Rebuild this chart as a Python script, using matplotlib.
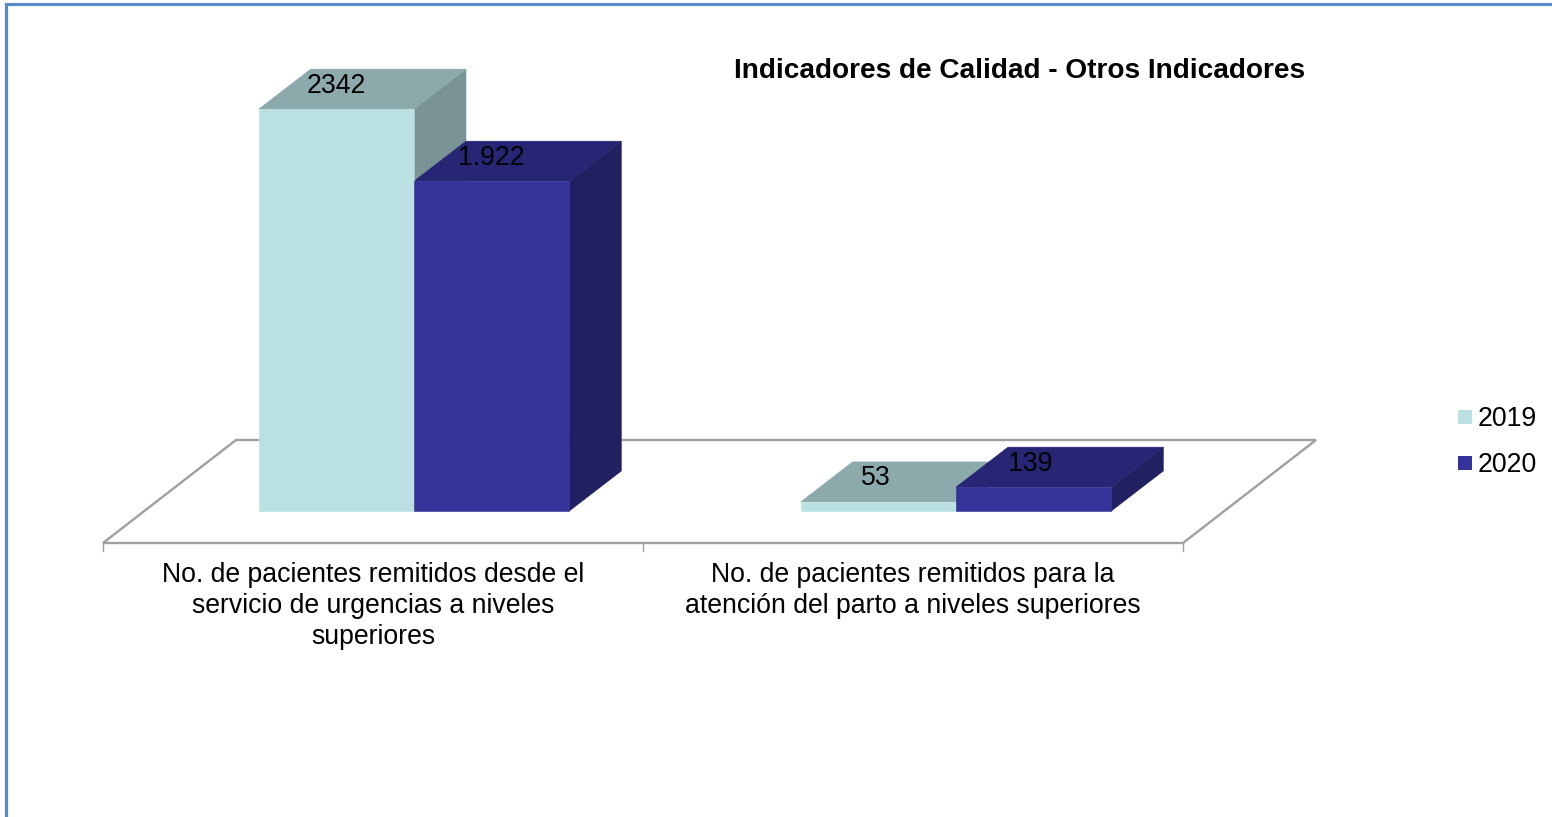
import matplotlib
matplotlib.use("Agg")
import matplotlib.pyplot as plt
from matplotlib.lines import Line2D
from matplotlib.patches import Polygon, Rectangle

plt.rcParams['font.family'] = ['Liberation Sans', 'DejaVu Sans']

# ---- data ----
categories = ["No. de pacientes remitidos desde el\nservicio de urgencias a niveles\nsuperiores",
              "No. de pacientes remitidos para la\natención del parto a niveles superiores"]
series_names = ["2019", "2020"]
values_2019 = [2342, 53]
values_2020 = [1922, 139]
labels_2019 = ["2342", "53"]
labels_2020 = ["1.922", "139"]
title = "Indicadores de Calidad - Otros Indicadores"

colors_front = ["#BAE0E1", "#333399"]
colors_top = ["#8CAAAB", "#262674"]
colors_side = ["#7A9394", "#212162"]
FLOOR = "#A0A0A0"
FRAME = "#5B8AC9"
W, H = 1552, 817

fig = plt.figure(figsize=(W / 100, H / 100), dpi=100)
fig.patch.set_facecolor("white")
# Outer frame: only the top and left edges fall inside the picture.
fig.add_artist(Line2D([1, 6 / W, 6 / W], [1 - 3.5 / H, 1 - 3.5 / H, 0], transform=fig.transFigure,
                      color=FRAME, lw=2.3, solid_joinstyle="miter"))

# Axes spans the category axis (x 103..1183 px); y=0 sits at the floor's front edge.
PX = 0.1716  # pixels per unit
x0, x1, y_base = 103, 1183, 543
y_top = 40
ax = fig.add_axes([x0 / W, 1 - y_base / H, (x1 - x0) / W, (y_base - y_top) / H])
ax.set_xlim(0, 2)
ax.set_ylim(0, (y_base - y_top) / PX)
ax.axis("off")

ux = 2 / (x1 - x0)      # x data units per pixel
uy = 1 / PX             # y data units per pixel
floor_dx, floor_dy = 133 * ux, 103 * uy
bar_off_x = [41 * ux, 43 * ux]
bar_off_y = 32 * uy
bar_w = 155.3 * ux
depth_x, depth_y = 52 * ux, 40 * uy
label_nudge = [-0.5 * ux, -3 * ux]

ax.add_patch(Polygon([(0, 0), (floor_dx, floor_dy), (2 + floor_dx, floor_dy), (2, 0)],
                     closed=True, fill=False, ec=FLOOR, lw=1.7, clip_on=False, zorder=1))
for t in [0, 1, 2]:
    ax.plot([t, t], [0, -8 * uy], color=FLOOR, lw=1, clip_on=False, zorder=1)
for i, c in enumerate(categories):
    ax.text(i + 0.5, -19 * uy, c, ha="center", va="top", fontsize=19.2, color="black",
            linespacing=1.26, clip_on=False)


def bar3d(left, value, k):
    right = left + bar_w
    b, t = bar_off_y, bar_off_y + value
    ax.add_patch(Polygon([(right, b), (right + depth_x, b + depth_y),
                          (right + depth_x, t + depth_y), (right, t)],
                         fc=colors_side[k], ec=colors_side[k], lw=0.4, zorder=3))
    ax.add_patch(Polygon([(left, t), (right, t), (right + depth_x, t + depth_y),
                          (left + depth_x, t + depth_y)],
                         fc=colors_top[k], ec=colors_top[k], lw=0.4, zorder=3))
    ax.add_patch(Rectangle((left, b), bar_w, value, fc=colors_front[k], ec=colors_front[k],
                           lw=0.4, zorder=4))


all_values = [values_2019, values_2020]
all_labels = [labels_2019, labels_2020]
for i in range(2):
    mid = i + 0.5 + bar_off_x[i]
    for k in range(2):
        left = mid - bar_w if k == 0 else mid
        bar3d(left, all_values[k][i], k)
    for k in range(2):
        left = mid - bar_w if k == 0 else mid
        ax.text(left + bar_w / 2 + label_nudge[i], bar_off_y + all_values[k][i] + depth_y / 2 + 3.5 * uy,
                all_labels[k][i], ha="center", va="center", fontsize=19.2, color="black", zorder=6)

fig.text(1019.5 / W, 1 - 71.5 / H, title, ha="center", va="center", fontsize=20.2, fontweight="bold")

for k, name in enumerate(series_names):
    y = 417 + 46 * k
    fig.add_artist(Rectangle((1458 / W, 1 - (y + 7) / H), 14 / W, 14 / H, transform=fig.transFigure,
                             fc=colors_front[k], ec="none"))
    fig.text(1477.5 / W, 1 - (y + 2.5) / H, name, ha="left", va="center", fontsize=19.2)

fig.savefig("out.png", dpi=100)
